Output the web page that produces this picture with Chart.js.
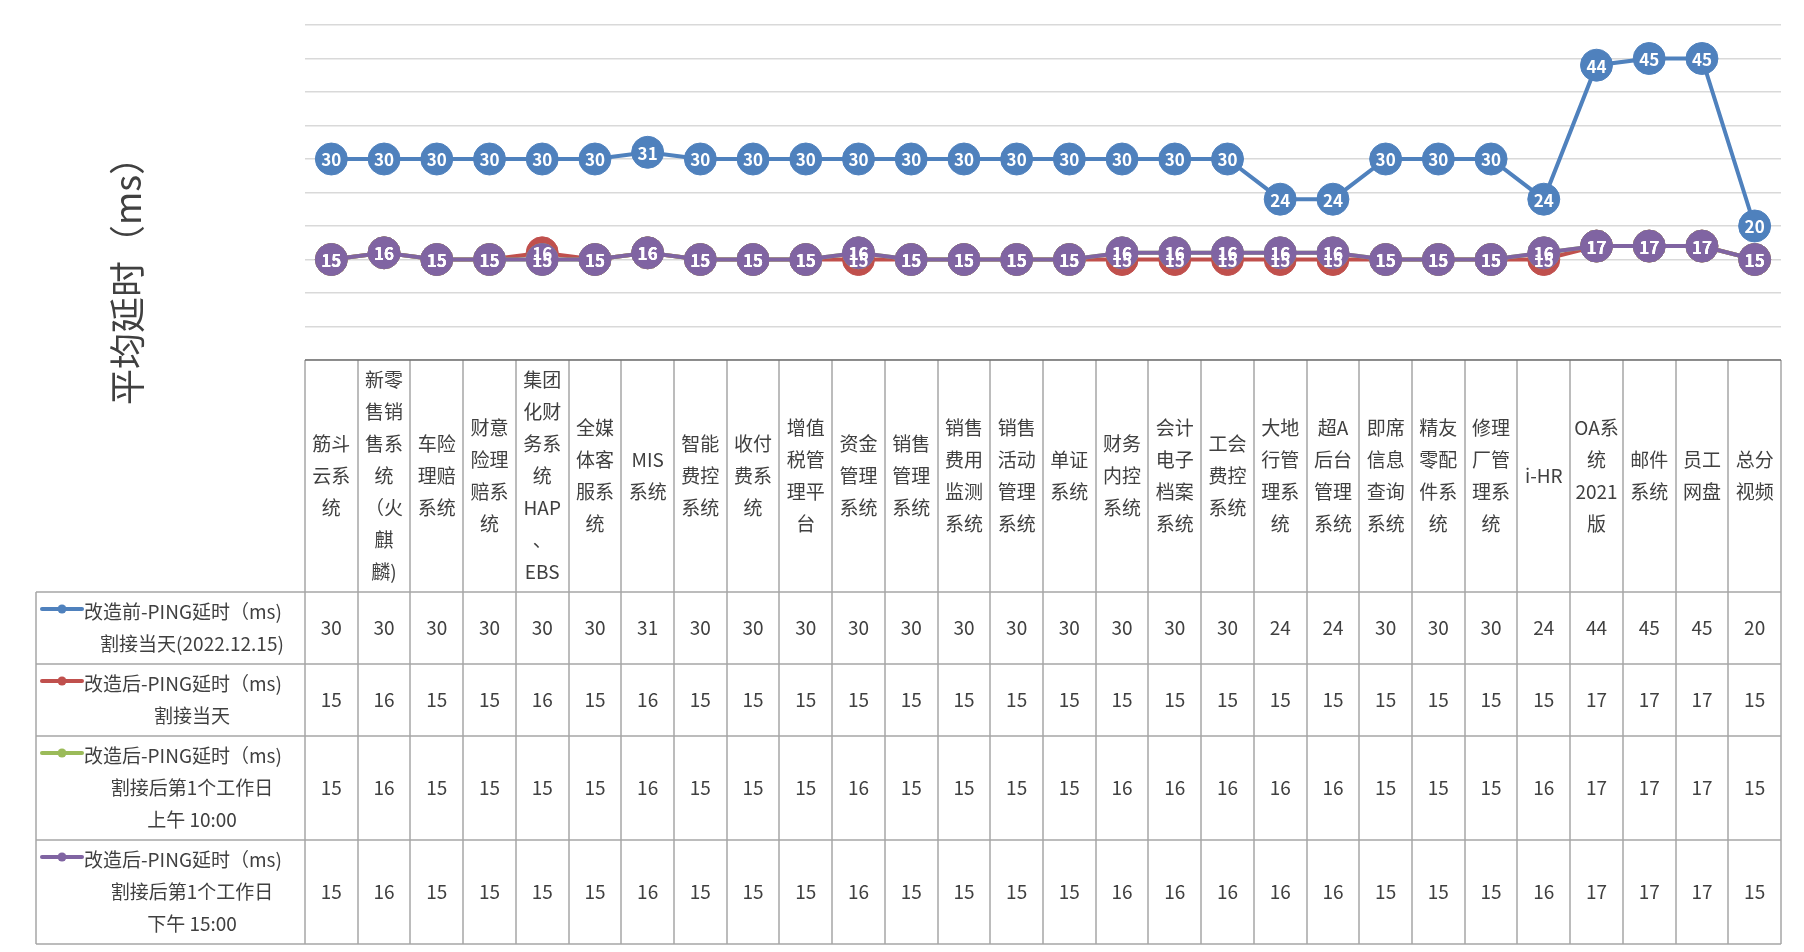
<!DOCTYPE html>
<html lang="zh-CN">
<head>
<meta charset="UTF-8">
<title>PING延时对比</title>
<script src="https://cdn.jsdelivr.net/npm/chart.js@4.4.0/dist/chart.umd.min.js"></script>
<style>
  html, body { margin: 0; padding: 0; background: #fff; }
  #chart-container { width: 1804px; height: 952px; }
</style>
</head>
<body>
<div id="chart-container"><canvas id="pingChart"></canvas></div>
<script>
// 系统名称（表头按原图换行）
const systems = [
  '筋斗\n云系\n统', '新零\n售销\n售系\n统\n（火\n麒\n麟)', '车险\n理赔\n系统', '财意\n险理\n赔系\n统',
  '集团\n化财\n务系\n统\nHAP\n、\nEBS', '全媒\n体客\n服系\n统', 'MIS\n系统', '智能\n费控\n系统',
  '收付\n费系\n统', '增值\n税管\n理平\n台', '资金\n管理\n系统', '销售\n管理\n系统',
  '销售\n费用\n监测\n系统', '销售\n活动\n管理\n系统', '单证\n系统', '财务\n内控\n系统',
  '会计\n电子\n档案\n系统', '工会\n费控\n系统', '大地\n行管\n理系\n统', '超A\n后台\n管理\n系统',
  '即席\n信息\n查询\n系统', '精友\n零配\n件系\n统', '修理\n厂管\n理系\n统', 'i-HR',
  'OA系\n统\n2021\n版', '邮件\n系统', '员工\n网盘', '总分\n视频'
];

// 各系列数值（ms）
const beforeCutover   = [30, 30, 30, 30, 30, 30, 31, 30, 30, 30, 30, 30, 30, 30, 30, 30, 30, 30, 24, 24, 30, 30, 30, 24, 44, 45, 45, 20];
const afterCutoverDay = [15, 16, 15, 15, 16, 15, 16, 15, 15, 15, 15, 15, 15, 15, 15, 15, 15, 15, 15, 15, 15, 15, 15, 15, 17, 17, 17, 15];
const afterDay1Am     = [15, 16, 15, 15, 15, 15, 16, 15, 15, 15, 16, 15, 15, 15, 15, 16, 16, 16, 16, 16, 15, 15, 15, 16, 17, 17, 17, 15];
const afterDay1Pm     = [15, 16, 15, 15, 15, 15, 16, 15, 15, 15, 16, 15, 15, 15, 15, 16, 16, 16, 16, 16, 15, 15, 15, 16, 17, 17, 17, 15];

// 系列名称（数据表左侧图例）
const seriesNames = [
  ['改造前-PING延时（ms)', '割接当天(2022.12.15)'],
  ['改造后-PING延时（ms)', '割接当天'],
  ['改造后-PING延时（ms)', '割接后第1个工作日', '上午 10:00'],
  ['改造后-PING延时（ms)', '割接后第1个工作日', '下午 15:00']
];
const seriesValues = [beforeCutover, afterCutoverDay, afterDay1Am, afterDay1Pm];

const yTitle = '平均延时（ms）';
const yMin = 0, yMax = 50, yStep = 5;

const colors = ['#4F81BD', '#C0504D', '#9BBB59', '#8064A2'];
const FONT = "'Noto Sans CJK SC', 'Noto Sans', sans-serif";
const TEXT_COLOR = '#404040';
const LINE_H = 32;
const TABLE_LEFT = 36;

// 数据点上的白色数值
const pointLabels = {
  id: 'pointLabels',
  afterDatasetsDraw(chart) {
    const ctx = chart.ctx;
    ctx.save();
    ctx.font = 'bold 17px ' + FONT;
    ctx.fillStyle = '#fff';
    ctx.textAlign = 'center';
    ctx.textBaseline = 'middle';
    chart.data.datasets.forEach((ds, i) => {
      chart.getDatasetMeta(i).data.forEach((pt, j) => {
        ctx.fillText(String(ds.data[j]), pt.x, pt.y + 1);
      });
    });
    ctx.restore();
  }
};

// 纵轴标题
const axisTitle = {
  id: 'axisTitle',
  afterDraw(chart) {
    const ctx = chart.ctx;
    ctx.save();
    ctx.translate(127, 272);
    ctx.rotate(-Math.PI / 2);
    ctx.font = '36px ' + FONT;
    ctx.fillStyle = TEXT_COLOR;
    ctx.textAlign = 'center';
    ctx.textBaseline = 'middle';
    ctx.fillText(yTitle, 0, 0);
    ctx.restore();
  }
};

// 图表下方的数据表
const dataTable = {
  id: 'dataTable',
  afterDraw(chart) {
    const ctx = chart.ctx;
    const area = chart.chartArea;
    const xs = chart.scales.x;
    const n = systems.length;
    const colW = (area.right - area.left) / n;

    const headerLines = systems.map(s => s.split('\n'));
    const headerH = Math.max(...headerLines.map(l => l.length)) * LINE_H + 8;
    const rowHs = seriesNames.map(l => l.length * LINE_H + 8);

    const top = area.bottom;
    const rowTops = [top + headerH];
    rowHs.forEach((h, i) => rowTops.push(rowTops[i] + h));
    const bottom = rowTops[rowTops.length - 1];

    ctx.save();
    ctx.strokeStyle = '#A6A6A6';
    ctx.lineWidth = 1.5;
    ctx.beginPath();
    // 竖线
    for (let i = 0; i <= n; i++) {
      const x = Math.round(area.left + i * colW);
      ctx.moveTo(x, top);
      ctx.lineTo(x, bottom);
    }
    ctx.moveTo(TABLE_LEFT, rowTops[0]);
    ctx.lineTo(TABLE_LEFT, bottom);
    // 横线
    rowTops.forEach(y => {
      ctx.moveTo(TABLE_LEFT, Math.round(y));
      ctx.lineTo(area.right, Math.round(y));
    });
    ctx.stroke();

    // 顶部轴线
    ctx.strokeStyle = '#6E6E6E';
    ctx.lineWidth = 1.5;
    ctx.beginPath();
    ctx.moveTo(area.left, top);
    ctx.lineTo(area.right, top);
    ctx.stroke();

    ctx.fillStyle = TEXT_COLOR;
    ctx.font = '19px ' + FONT;
    ctx.textAlign = 'center';
    ctx.textBaseline = 'middle';

    // 表头
    const headMid = top + headerH / 2;
    headerLines.forEach((lines, i) => {
      const cx = xs.getPixelForValue(i);
      const y0 = headMid - (lines.length - 1) * LINE_H / 2;
      lines.forEach((t, k) => ctx.fillText(t, cx, y0 + k * LINE_H));
    });

    // 数据行
    seriesValues.forEach((vals, r) => {
      const mid = (rowTops[r] + rowTops[r + 1]) / 2;
      vals.forEach((v, i) => ctx.fillText(String(v), xs.getPixelForValue(i), mid));

      // 图例名称：第一行紧跟图例标记，其余行居中
      const lines = seriesNames[r];
      const y0 = mid - (lines.length - 1) * LINE_H / 2;
      lines.forEach((t, k) => {
        if (k === 0) {
          ctx.textAlign = 'left';
          ctx.fillText(t, 84, y0);
        } else {
          ctx.textAlign = 'center';
          ctx.fillText(t, 192, y0 + k * LINE_H);
        }
      });
      ctx.textAlign = 'center';

      // 图例标记
      ctx.strokeStyle = colors[r];
      ctx.lineWidth = 4;
      ctx.lineCap = 'round';
      ctx.beginPath();
      ctx.moveTo(42, y0 - 3);
      ctx.lineTo(82, y0 - 3);
      ctx.stroke();
      ctx.beginPath();
      ctx.fillStyle = colors[r];
      ctx.arc(62, y0 - 3, 4.5, 0, Math.PI * 2);
      ctx.fill();
      ctx.fillStyle = TEXT_COLOR;
    });
    ctx.restore();
  }
};

const makeDataset = (i, order) => ({
  label: seriesNames[i].join(' '),
  data: seriesValues[i],
  borderColor: colors[i],
  backgroundColor: colors[i],
  pointBackgroundColor: colors[i],
  pointBorderColor: colors[i],
  borderWidth: 4,
  pointRadius: 16,
  pointBorderWidth: 1,
  tension: 0,
  order: order
});

const ctx = document.getElementById('pingChart').getContext('2d');
new Chart(ctx, {
  type: 'line',
  data: {
    labels: systems,
    datasets: [makeDataset(0, 3), makeDataset(1, 2), makeDataset(2, 1), makeDataset(3, 0)]
  },
  options: {
    responsive: true,
    maintainAspectRatio: false,
    animation: false,
    layout: { padding: { left: 305, right: 23, top: 25, bottom: 592 } },
    plugins: {
      legend: { display: false },
      tooltip: { enabled: false }
    },
    scales: {
      x: {
        offset: true,
        ticks: { display: false },
        grid: { display: false, drawTicks: false },
        border: { display: false }
      },
      y: {
        min: yMin,
        max: yMax,
        ticks: { display: false, stepSize: yStep },
        grid: { color: '#D9D9D9', lineWidth: 1.5, drawTicks: false },
        border: { display: false }
      }
    }
  },
  plugins: [pointLabels, axisTitle, dataTable]
});
</script>
</body>
</html>
